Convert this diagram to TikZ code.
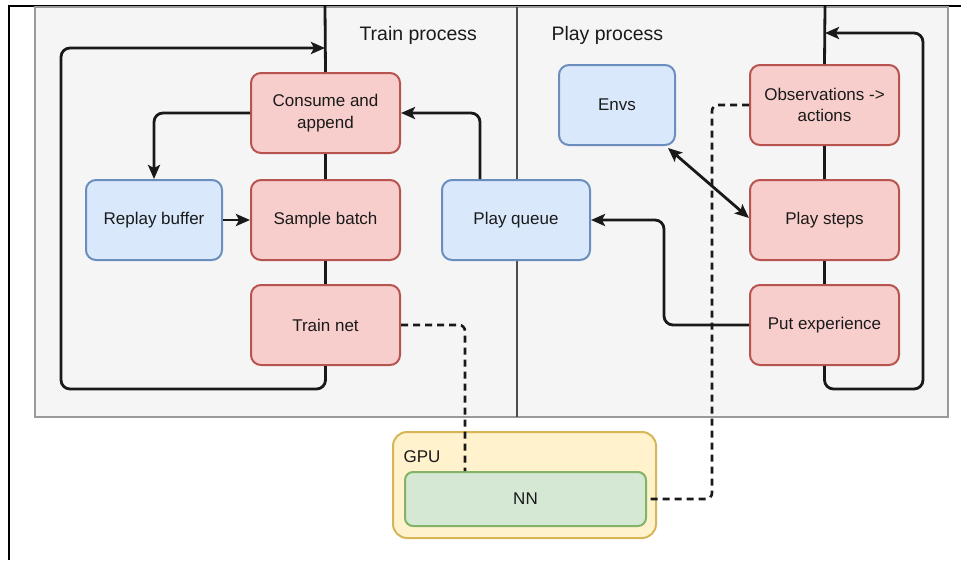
\documentclass[tikz,border=0pt]{standalone}
\usepackage{fontspec}
\setmainfont{Liberation Sans}
\usetikzlibrary{arrows.meta}

\definecolor{redfill}{HTML}{F8CECC}
\definecolor{redline}{HTML}{B85450}
\definecolor{bluefill}{HTML}{DAE8FC}
\definecolor{blueline}{HTML}{6C8EBF}
\definecolor{greenfill}{HTML}{D5E8D4}
\definecolor{greenline}{HTML}{82B366}
\definecolor{yellowfill}{HTML}{FFF2CC}
\definecolor{yellowline}{HTML}{D6B656}
\definecolor{panelfill}{HTML}{F5F5F5}
\definecolor{panelline}{HTML}{9A9A9A}
\definecolor{textcol}{HTML}{1A1A1A}

\tikzset{
  box/.style={rounded corners=10pt, line width=2pt, minimum width=#1,
    minimum height=80pt, inner sep=2pt, align=center, text=textcol,
    font=\fontsize{17}{21.5}\selectfont},
  box/.default=149pt,
  redbox/.style={box, fill=redfill, draw=redline},
  bluebox/.style={box=#1, fill=bluefill, draw=blueline},
  bluebox/.default=136pt,
  flow/.style={line width=2.8pt, draw=black!90, rounded corners=9pt},
  arrowed/.style={flow, -{Stealth[length=14pt,width=12pt,inset=3pt]}},
  twoway/.style={flow, {Stealth[length=14pt,width=12pt,inset=3pt]}-{Stealth[length=14pt,width=12pt,inset=3pt]}},
  dashlink/.style={line width=2.6pt, draw=black!90, rounded corners=6pt,
    dash pattern=on 7pt off 5pt},
  title/.style={anchor=west, text=textcol, font=\fontsize{19.5}{23}\selectfont},
}

\begin{document}
\begin{tikzpicture}[x=1pt, y=-1pt]
  \useasboundingbox (0,0) rectangle (961,560);
  \fill[white] (0,0) rectangle (961,560);

  % page frame
  \draw[line width=1.6pt] (9,560) -- (9,6) -- (961,6);

  % shared process panel and its divider
  \draw[fill=panelfill, draw=panelline, line width=2.4pt] (35,7) rectangle (948,417);
  \draw[line width=1.6pt, draw=black!70] (517,7) -- (517,417);

  \node[title] (traintitle) at (356,35) {Train process};
  \node[title] (playtitle) at (548,35) {Play process};

  % train process
  \node[redbox] (consume) at (325.5,113) {Consume and\\append};
  \node[redbox] (sample) at (325.5,220) {Sample batch};
  \node[redbox] (trainnet) at (325.5,325) {Train net};
  \node[bluebox] (replay) at (154,220) {Replay buffer};
  \node[bluebox=148pt] (playq) at (516,220) {Play queue};

  % play process
  \node[bluebox=116pt] (envs) at (617,105) {Envs};
  \node[redbox] (obs) at (824.5,105) {Observations ->\\actions};
  \node[redbox] (steps) at (824.5,220) {Play steps};
  \node[redbox] (putexp) at (824.5,325) {Put experience};

  % GPU
  \node[rounded corners=14pt, line width=2pt, fill=yellowfill, draw=yellowline,
        minimum width=263pt, minimum height=106pt] (gpu) at (524.5,485) {};
  \node[anchor=west, text=textcol, font=\fontsize{17}{20}\selectfont] (gpulabel) at (400,457) {GPU};
  \node[box=241pt, minimum height=54pt, rounded corners=8pt, fill=greenfill, draw=greenline] (nn) at (525.5,499) {NN};

  % train loop
  \coordinate (traintop) at (325,6);
  \coordinate (trainin) at (325,48);
  \draw[flow] (traintop) -- (consume.north);
  \draw[flow] (consume) -- (sample);
  \draw[flow] (sample) -- (trainnet);
  \draw[arrowed] (trainnet.south) -- ++(0,23) -| (61,48) -- (trainin);

  % play loop
  \coordinate (playtop) at (825,6);
  \coordinate (playin) at (825,33);
  \draw[flow] (playtop) -- (obs.north);
  \draw[flow] (obs) -- (steps);
  \draw[flow] (steps) -- (putexp);
  \draw[arrowed] (putexp.south) -- ++(0,23) -| (923,33) -- (playin);

  % data flow
  \draw[arrowed] ([xshift=39pt]playq.north west) |- (consume.east);
  \draw[arrowed] (consume.west) -| (replay.north);
  \draw[arrowed] (replay.east) -- (sample.west);
  \draw[arrowed] (putexp.west) -- ++(-85,0) |- (playq.east);
  \draw[twoway] ([shift={(-8,2)}]envs.south east) -- ([shift={(0,-2)}]steps.west);

  % network access
  \draw[dashlink] (trainnet.east) -| ([xshift=61pt]nn.north west);
  \draw[dashlink] (obs.west) -- ++(-37,0) |- (nn.east);
\end{tikzpicture}
\end{document}
